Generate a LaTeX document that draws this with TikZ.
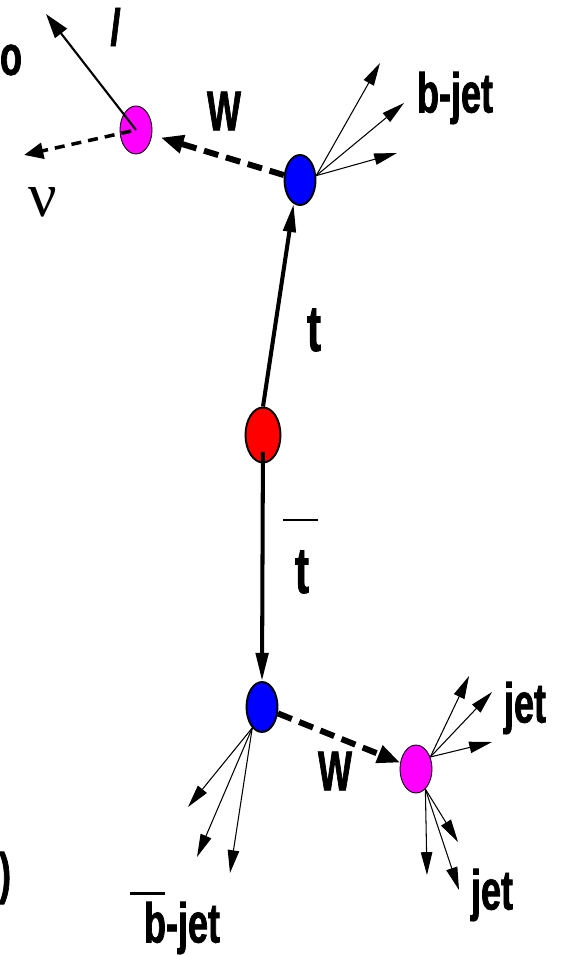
\documentclass[tikz,border=0pt]{standalone}
\usepackage{fontspec}
\setmainfont{Liberation Sans}[FakeStretch=0.64, BoldFeatures={FakeBold=1.2}, BoldItalicFeatures={FakeBold=1.2}]
\newfontfamily\greekfont{Liberation Serif}
\usepackage{tikz}
\usetikzlibrary{shapes.geometric, arrows.meta, positioning, calc}
\definecolor{vred}{RGB}{255,0,0}
\definecolor{vblue}{RGB}{0,0,255}
\definecolor{vpink}{RGB}{255,0,255}
\tikzset{
  vtxred/.style={ellipse, draw=black, fill=vred, minimum width=0.7cm,
    minimum height=1.1cm, inner sep=0pt, line width=1.1pt},
  vtxblue/.style={ellipse, draw=black, fill=vblue, minimum width=0.62cm,
    minimum height=1.0cm, inner sep=0pt, line width=1.1pt},
  vtxpink/.style={ellipse, draw=black, fill=vpink, minimum width=0.64cm,
    minimum height=0.96cm, inner sep=0pt, line width=0.5pt},
  quarkarrow/.style={-{Triangle[length=16pt, width=7pt]}, line width=2.3pt},
  warrow/.style={-{Triangle[length=13pt, width=10pt]}, line width=3.4pt,
    dash pattern=on 8.5pt off 4.5pt},
  leparrow/.style={-{Triangle[length=14pt, width=8.5pt]}, line width=1.2pt},
  nuarrow/.style={-{Triangle[length=11pt, width=9pt]}, line width=2pt,
    dash pattern=on 5.7pt off 4pt},
  jetarrow/.style={-{Triangle[length=13pt, width=6.5pt]}, line width=0.6pt},
  lbl/.style={font=\bfseries\fontsize{32}{38}\selectfont, inner sep=0pt},
  tlbl/.style={font=\bfseries\fontsize{37}{44}\selectfont, inner sep=0pt},
  barline/.style={line width=1.7pt}
}
\begin{document}
\begin{tikzpicture}[x=0.02cm, y=-0.02cm]
  \useasboundingbox (0,0) rectangle (564,955);
  \clip (0,0) rectangle (564,955);

  % Vertices
  \node[vtxred] (tt) at (263,435) {};
  \node[vtxblue] (bt) at (300,180) {};
  \node[vtxpink] (lm) at (136,130) {};
  \node[vtxblue] (bb) at (262,707) {};
  \node[vtxpink] (hm) at (416,769) {};

  % Free ends
  \coordinate (lend) at (46,14);
  \coordinate (nuend) at (24,155);
  \coordinate (bj1) at (380,63);
  \coordinate (bj2) at (404,103);
  \coordinate (bj3) at (397,153);
  \coordinate (bbj1) at (188,807);
  \coordinate (bbj2) at (197,857);
  \coordinate (bbj3) at (230,873);
  \coordinate (ju1) at (469,676);
  \coordinate (ju2) at (492,692);
  \coordinate (ju3) at (492,742);
  \coordinate (jd1) at (458,842);
  \coordinate (jd2) at (427,875);
  \coordinate (jd3) at (459,890);

  % Quarks
  \draw[quarkarrow] (tt.90) -- (bt.255);
  \draw[quarkarrow, shorten <=0.34cm] (tt.center) -- (bb.north);

  % W bosons
  \draw[warrow, shorten >=0.18cm] (bt) -- (lm);
  \draw[warrow] (bb) -- (hm);

  % Lepton and neutrino
  \draw[leparrow] (lm.center) -- (lend);
  \draw[nuarrow, shorten <=0.1cm] (lm.center) -- (nuend);

  % Jets
  \foreach \n in {1,2,3} \draw[jetarrow] (bt.15) -- (bj\n);
  \foreach \n in {1,2,3} \draw[jetarrow] (bb.-115) -- (bbj\n);
  \foreach \n in {1,2,3} \draw[jetarrow] (hm.40) -- (ju\n);
  \foreach \n in {1,2,3} \draw[jetarrow] (hm.-65) -- (jd\n);

  % Labels
  \node[lbl] (wtop) at (224,111) {W};
  \node[lbl] (bjet) at (455,98) {b-jet};
  \node[tlbl] (tlab) at (314,330) {t};
  \node[tlbl] (tblab) at (302,572) {t};
  \draw[barline] (283,520) -- (318,520);
  \node[lbl] (wbot) at (335,771) {W};
  \node[lbl] (bbjet) at (182,928) {b-jet};
  \draw[barline] (130,893) -- (165,893);
  \node[lbl] (jup) at (525,708) {jet};
  \node[lbl] (jdn) at (492,895) {jet};
  \node[lbl, font=\bfseries\itshape\fontsize{30}{36}\selectfont] (llab) at (115,27) {l};
  \node[lbl] (olab) at (11,60) {o};
  \node[lbl] (parlab) at (5,878) {)};
  \node[inner sep=0pt, font=\greekfont\fontsize{36}{40}\selectfont] (nulab) at (43,202) {ν};
\end{tikzpicture}
\end{document}
